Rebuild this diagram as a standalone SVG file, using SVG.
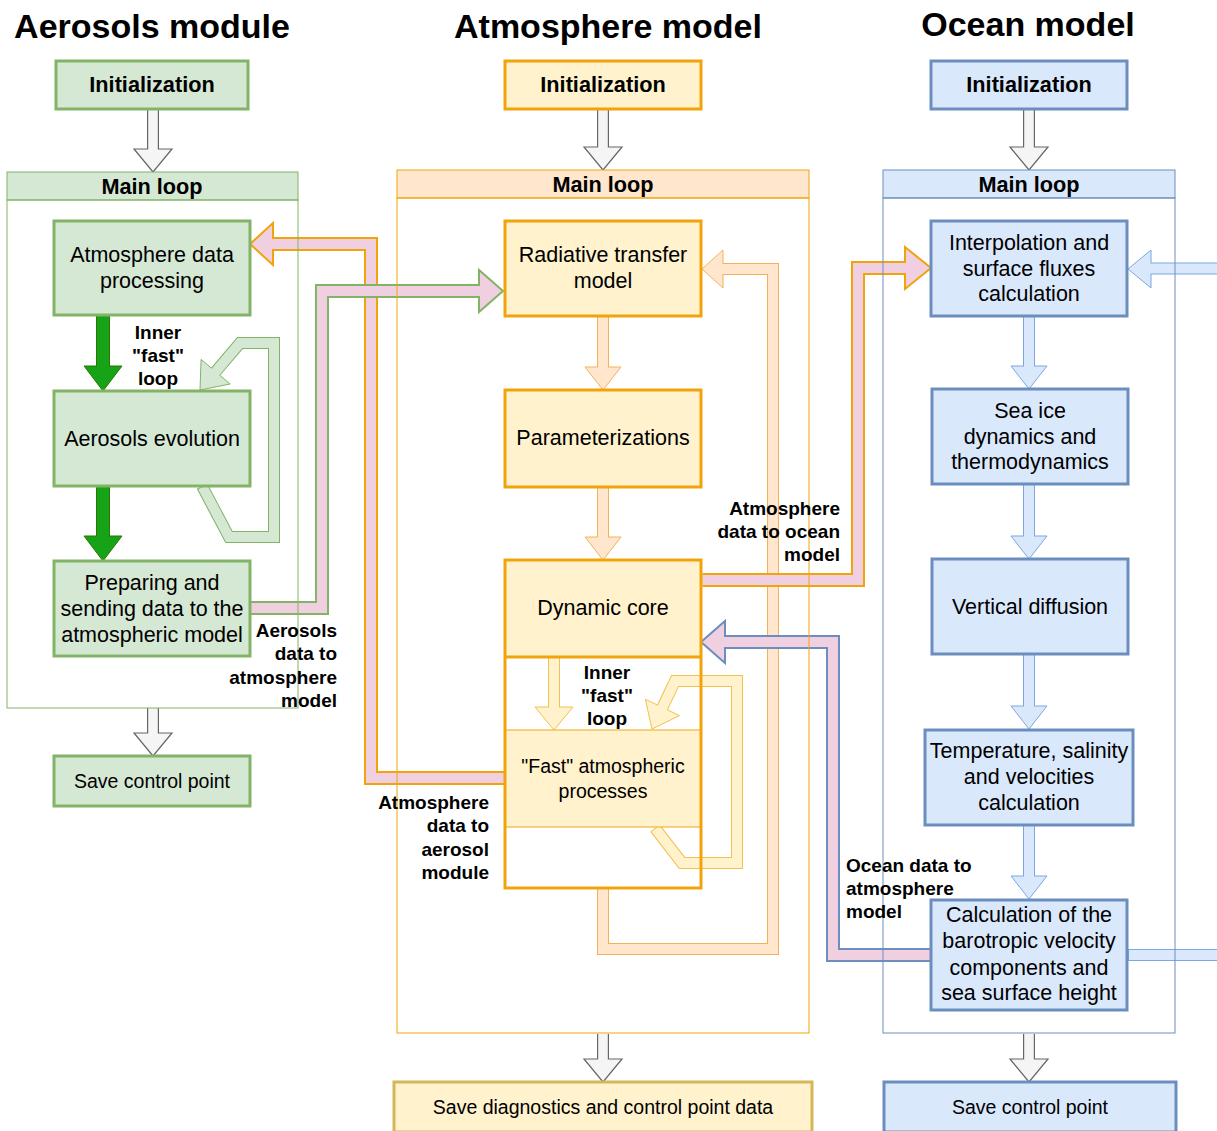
<svg xmlns="http://www.w3.org/2000/svg" width="1217" height="1131" viewBox="0 0 1217 1131">
<style>
text{font-family:"Liberation Sans",Arial,Helvetica,sans-serif;fill:#000}
.ttl{font-size:34px;font-weight:bold;text-anchor:middle}
.hd{font-size:21.7px;font-weight:bold;text-anchor:middle}
.bd{font-size:21.5px;text-anchor:middle}
.sm{font-size:19.5px;text-anchor:middle}
.lb{font-size:19px;font-weight:bold}
.lbm{text-anchor:middle}
.lbr{text-anchor:end}
.s{fill:none;stroke-linejoin:miter;stroke-miterlimit:10}
.h{stroke-linejoin:miter}
.go{stroke:#666;stroke-width:12}.gi{stroke:#f5f5f5;stroke-width:9.6}.gh{fill:#f5f5f5;stroke:#666;stroke-width:1.2}
.do{stroke:#2d7600;stroke-width:14}.di{stroke:#17a317;stroke-width:12}.dh{fill:#17a317;stroke:#2d7600;stroke-width:1}
.lo{stroke:#82b366;stroke-width:12}.li{stroke:#d5e8d4;stroke-width:10}.lh{fill:#d5e8d4;stroke:#82b366;stroke-width:1}
.po{stroke:#f3b25a;stroke-width:12}.pi{stroke:#ffe6cc;stroke-width:10}.ph{fill:#ffe6cc;stroke:#f3b25a;stroke-width:1}
.yo{stroke:#f2c14e;stroke-width:12}.yi{stroke:#fff2cc;stroke-width:10}.yh{fill:#fff2cc;stroke:#f2c14e;stroke-width:1}
.bo{stroke:#7ea6e0;stroke-width:12}.bi{stroke:#dae8fc;stroke-width:10}.bh{fill:#dae8fc;stroke:#7ea6e0;stroke-width:1}
.ko{stroke:#f0a30a;stroke-width:14}.kgo{stroke:#82b366;stroke-width:14}.kbo{stroke:#6c8ebf;stroke-width:14}
.ki{stroke:#f0d0e0;stroke-width:10}
.kh{fill:#f0d0e0;stroke:#f0a30a;stroke-width:2}.kgh{fill:#f0d0e0;stroke:#82b366;stroke-width:2}.kbh{fill:#f0d0e0;stroke:#6c8ebf;stroke-width:2}
.ng{fill:#d5e8d4;stroke:#82b366;stroke-width:3}
.ny{fill:#fff2cc;stroke:#f0a30a;stroke-width:3}
.nb{fill:#dae8fc;stroke:#6c8ebf;stroke-width:3}
.cg{stroke:#82b366;stroke-width:1}
.cy{stroke:#f0a30a;stroke-width:1}
.cb{stroke:#6c8ebf;stroke-width:1}
</style>
<rect x="0" y="0" width="1217" height="1131" fill="#fff"/>

<g id="titles">
<text class="ttl" x="152" y="38">Aerosols module</text>
<text class="ttl" x="608" y="38">Atmosphere model</text>
<text class="ttl" x="1028" y="36">Ocean model</text>
</g>

<g id="connectors">
<!-- gray init/save arrows -->
<path class="s go" d="M153,109V149"/><polygon class="h gh" points="134,149 172,149 153,172"/><path class="s gi" d="M153,109V150.5"/>
<path class="s go" d="M603,109V147"/><polygon class="h gh" points="584,147 622,147 603,170"/><path class="s gi" d="M603,109V148.5"/>
<path class="s go" d="M1029,109V147"/><polygon class="h gh" points="1010,147 1048,147 1029,170"/><path class="s gi" d="M1029,109V148.5"/>
<path class="s go" d="M153,708V733"/><polygon class="h gh" points="134,733 172,733 153,756"/><path class="s gi" d="M153,708V734.5"/>
<path class="s go" d="M603,1034V1059"/><polygon class="h gh" points="584,1059 622,1059 603,1082"/><path class="s gi" d="M603,1034V1060.5"/>
<path class="s go" d="M1029,1034V1059"/><polygon class="h gh" points="1010,1059 1048,1059 1029,1082"/><path class="s gi" d="M1029,1034V1060.5"/>

<!-- dark green aerosol flow -->
<path class="s do" d="M103,316V366"/><polygon class="h dh" points="84,366 122,366 103,391"/><path class="s di" d="M103,316V367"/>
<path class="s do" d="M103,486V536"/><polygon class="h dh" points="84,536 122,536 103,561"/><path class="s di" d="M103,486V537"/>

<!-- light green inner fast loop -->
<path class="s lo" d="M202,486L229,537L274,537L274,343L240,343L215.6,371.7"/>
<polygon class="h lh" points="201.1,359.4 230.1,384 200,390"/>
<path class="s li" d="M202.6,487L229,537L274,537L274,343L240,343L215,372.5"/>

<!-- atmosphere vertical flow -->
<path class="s po" d="M603,316V367"/><polygon class="h ph" points="585,367 621,367 603,390"/><path class="s pi" d="M603,316V368"/>
<path class="s po" d="M603,487V537"/><polygon class="h ph" points="585,537 621,537 603,560"/><path class="s pi" d="M603,487V538"/>

<!-- big atmosphere loop back to radiative transfer -->
<path class="s po" d="M603,888L603,949L773,949L773,269L723,269"/>
<polygon class="h ph" points="723,250 723,288 702,269"/>
<path class="s pi" d="M603,889L603,949L773,949L773,269L722,269"/>

<!-- inner fast loop in atmosphere -->
<path class="s yo" d="M554,657V707"/><polygon class="h yh" points="535,707 573,707 554,730"/><path class="s yi" d="M554,657V708"/>
<path class="s yo" d="M655,828L682,863L737,863L737,681L675,681L662.4,707.4"/>
<polygon class="h yh" points="645.3,699.2 679.5,715.6 652,729"/>
<path class="s yi" d="M655.6,828.8L682,863L737,863L737,681L675,681L662,708.3"/>

<!-- ocean vertical flow -->
<path class="s bo" d="M1029,316V366"/><polygon class="h bh" points="1011,366 1047,366 1029,389"/><path class="s bi" d="M1029,316V367"/>
<path class="s bo" d="M1029,484V536"/><polygon class="h bh" points="1011,536 1047,536 1029,559"/><path class="s bi" d="M1029,484V537"/>
<path class="s bo" d="M1029,654V706"/><polygon class="h bh" points="1011,706 1047,706 1029,729"/><path class="s bi" d="M1029,654V707"/>
<path class="s bo" d="M1029,825V876"/><polygon class="h bh" points="1011,876 1047,876 1029,899"/><path class="s bi" d="M1029,825V877"/>

<!-- ocean external in/out -->
<path class="s bo" d="M1220,268.5H1151"/><polygon class="h bh" points="1151,250 1151,288 1128,269"/><path class="s bi" d="M1220,268.5H1150"/>
<path class="s bo" d="M1128,955H1220"/><path class="s bi" d="M1129,955H1220"/>

<!-- atmosphere data to aerosol module -->
<path class="s ko" d="M505,778L371,778L371,244L273,244"/>
<polygon class="h kh" points="273,223 273,265 250,244"/>
<path class="s ki" d="M505,778L371,778L371,244L271.5,244"/>

<!-- aerosols data to atmosphere model -->
<path class="s kgo" d="M250,608L322,608L322,291L479,291"/>
<polygon class="h kgh" points="479,270 479,312 503,291"/>
<path class="s ki" d="M250,608L322,608L322,291L480.5,291"/>

<!-- atmosphere data to ocean model -->
<path class="s ko" d="M702.5,580L858,580L858,268L905,268"/>
<polygon class="h kh" points="905,247 905,289 931,268"/>
<path class="s ki" d="M702.5,580L858,580L858,268L906.5,268"/>

<!-- ocean data to atmosphere model -->
<path class="s kbo" d="M931,955L833,955L833,642L725,642"/>
<polygon class="h kbh" points="725,621 725,663 701,642"/>
<path class="s ki" d="M931,955L833,955L833,642L723.5,642"/>
</g>

<g id="aerosol-main-loop">
<rect x="7" y="172" width="291" height="28" fill="#d5e8d4" class="cg"/>
<rect x="7" y="200" width="291" height="508" fill="none" class="cg"/>
<text class="hd" x="152" y="194">Main loop</text>
</g>
<g id="atmosphere-main-loop">
<rect x="397" y="170" width="412" height="28" fill="#ffe6cc" class="cy"/>
<rect x="397" y="198" width="412" height="835" fill="none" class="cy"/>
<text class="hd" x="603" y="192">Main loop</text>
</g>
<g id="ocean-main-loop">
<rect x="883" y="170" width="292" height="28" fill="#dae8fc" class="cb"/>
<rect x="883" y="198" width="292" height="835" fill="none" class="cb"/>
<text class="hd" x="1029" y="192">Main loop</text>
</g>

<g id="aer-init"><rect class="ng" x="56" y="61" width="192" height="48"/><text class="hd" x="152" y="92">Initialization</text></g>
<g id="aer-atmdata"><rect class="ng" x="54" y="221" width="196" height="94"/><text class="bd" x="152" y="262">Atmosphere data</text><text class="bd" x="152" y="288">processing</text></g>
<g id="aer-evolution"><rect class="ng" x="54" y="391" width="196" height="95"/><text class="bd" x="152" y="446">Aerosols evolution</text></g>
<g id="aer-prepare"><rect class="ng" x="54" y="561" width="196" height="95"/><text class="bd" x="152" y="590">Preparing and</text><text class="bd" x="152" y="616">sending data to the</text><text class="bd" x="152" y="642">atmospheric model</text></g>
<g id="aer-save"><rect class="ng" x="54" y="756" width="196" height="50"/><text class="sm" x="152" y="788">Save control point</text></g>

<g id="atm-init"><rect class="ny" x="505" y="61" width="196" height="48"/><text class="hd" x="603" y="92">Initialization</text></g>
<g id="atm-radiative"><rect class="ny" x="505" y="221" width="196" height="95"/><text class="bd" x="603" y="262">Radiative transfer</text><text class="bd" x="603" y="288">model</text></g>
<g id="atm-param"><rect class="ny" x="505" y="390" width="196" height="97"/><text class="bd" x="603" y="445">Parameterizations</text></g>
<g id="atm-dyncore">
<rect x="505" y="560" width="196" height="97" fill="#fff2cc"/>
<rect x="505" y="730" width="196" height="97" fill="#fff2cc" stroke="#f2b53a" stroke-width="1.2"/>
<line x1="505" y1="657" x2="701" y2="657" stroke="#f0a30a" stroke-width="3"/>
<rect x="505" y="560" width="196" height="328" fill="none" stroke="#f0a30a" stroke-width="3"/>
<text class="bd" x="603" y="615">Dynamic core</text>
<text class="sm" x="603" y="773">"Fast" atmospheric</text>
<text class="sm" x="603" y="798">processes</text>
</g>
<g id="atm-save"><rect x="394" y="1082" width="418" height="50" fill="#fff2cc" stroke="#d6b656" stroke-width="3"/><text class="sm" x="603" y="1114">Save diagnostics and control point data</text></g>

<g id="oc-init"><rect class="nb" x="931" y="61" width="196" height="48"/><text class="hd" x="1029" y="92">Initialization</text></g>
<g id="oc-interp"><rect class="nb" x="931" y="221" width="196" height="95"/><text class="bd" x="1029" y="250">Interpolation and</text><text class="bd" x="1029" y="276">surface fluxes</text><text class="bd" x="1029" y="301">calculation</text></g>
<g id="oc-seaice"><rect class="nb" x="932" y="389" width="196" height="95"/><text class="bd" x="1030" y="418">Sea ice</text><text class="bd" x="1030" y="444">dynamics and</text><text class="bd" x="1030" y="469">thermodynamics</text></g>
<g id="oc-vdiff"><rect class="nb" x="932" y="559" width="196" height="95"/><text class="bd" x="1030" y="614">Vertical diffusion</text></g>
<g id="oc-temp"><rect class="nb" x="925" y="730" width="208" height="95"/><text class="bd" x="1029" y="758">Temperature, salinity</text><text class="bd" x="1029" y="784">and velocities</text><text class="bd" x="1029" y="810">calculation</text></g>
<g id="oc-baro"><rect class="nb" x="931" y="900" width="196" height="110"/><text class="bd" x="1029" y="922">Calculation of the</text><text class="bd" x="1029" y="948">barotropic velocity</text><text class="bd" x="1029" y="975">components and</text><text class="bd" x="1029" y="1000">sea surface height</text></g>
<g id="oc-save"><rect class="nb" x="884" y="1082" width="292" height="50"/><text class="sm" x="1030" y="1114">Save control point</text></g>

<g id="labels">
<text class="lb lbm" x="158" y="339">Inner</text><text class="lb lbm" x="158" y="362">"fast"</text><text class="lb lbm" x="158" y="385">loop</text>
<text class="lb lbm" x="607" y="679">Inner</text><text class="lb lbm" x="607" y="702">"fast"</text><text class="lb lbm" x="607" y="725">loop</text>
<text class="lb lbr" x="840" y="515">Atmosphere</text><text class="lb lbr" x="840" y="538">data to ocean</text><text class="lb lbr" x="840" y="561">model</text>
<text class="lb lbr" x="337" y="637">Aerosols</text><text class="lb lbr" x="337" y="660">data to</text><text class="lb lbr" x="337" y="684">atmosphere</text><text class="lb lbr" x="337" y="707">model</text>
<text class="lb lbr" x="489" y="809">Atmosphere</text><text class="lb lbr" x="489" y="832">data to</text><text class="lb lbr" x="489" y="856">aerosol</text><text class="lb lbr" x="489" y="879">module</text>
<text class="lb" x="846" y="872">Ocean data to</text><text class="lb" x="846" y="895">atmosphere</text><text class="lb" x="846" y="918">model</text>
</g>
</svg>
